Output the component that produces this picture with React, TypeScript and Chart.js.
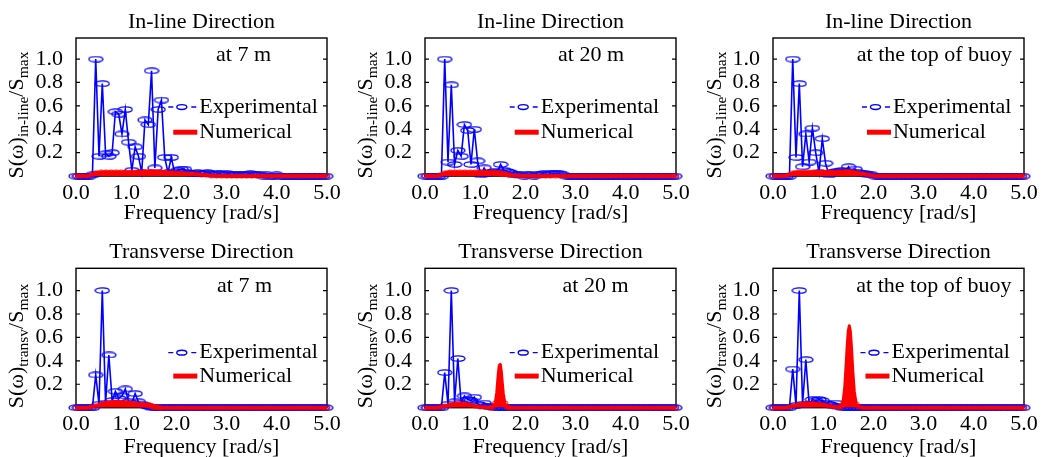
import React, { useEffect, useRef } from 'react';
import { Chart, registerables } from 'chart.js';

Chart.register(...registerables);

// ---------------- data ----------------
const expFreq = [
  0, 0.065, 0.131, 0.196, 0.262, 0.327, 0.393, 0.458, 0.524, 0.589, 0.654,
  0.72, 0.785, 0.851, 0.916, 0.982, 1.047, 1.113, 1.178, 1.244, 1.309, 1.374,
  1.44, 1.505, 1.571, 1.636, 1.702, 1.767, 1.833, 1.898, 1.963, 2.029, 2.094,
  2.16, 2.225, 2.291, 2.356, 2.421, 2.487, 2.552, 2.618, 2.683, 2.749, 2.814,
  2.88, 2.945, 3.011, 3.076, 3.142, 3.207, 3.272, 3.338, 3.403, 3.469, 3.534,
  3.6, 3.665, 3.731, 3.796, 3.862, 3.927, 3.992, 4.058, 4.123, 4.189, 4.254,
  4.32, 4.385, 4.451, 4.516, 4.581, 4.647, 4.712, 4.778, 4.843, 4.909, 4.974,
];

const expInline7 = [
  0, 0, 0, 0, 0, 0.01, 1.0, 0.17, 0.79, 0.19, 0.17,
  0.2, 0.55, 0.53, 0.36, 0.57, 0.29, 0.05, 0.25, 0.17, 0.03, 0.48,
  0.44, 0.9, 0.07, 0.57, 0.65, 0.16, 0.03, 0.16, 0.03, 0.05, 0.06,
  0.06, 0.03, 0.02, 0.02, 0.03, 0.02, 0.02, 0.03, 0.02, 0.01, 0.02,
  0.02, 0.01, 0.02, 0.01, 0.01, 0.01, 0.01, 0.01, 0.01, 0.02, 0.01,
  0.01, 0.01, 0, 0.01, 0, 0, 0.01, 0, 0, 0, 0,
  0, 0, 0, 0, 0, 0, 0, 0, 0, 0, 0,
];
const expInline20 = [
  0, 0, 0, 0, 0, 0, 1.0, 0.12, 0.78, 0.1, 0.22,
  0.17, 0.44, 0.39, 0.1, 0.4, 0.13, 0.01, 0.07, 0.02, 0.03, 0.04,
  0.03, 0.1, 0.05, 0.04, 0.03, 0.01, 0.01, 0.01, 0, 0.01, 0.01,
  0, 0.01, 0.01, 0.02, 0.01, 0.02, 0.02, 0.02, 0.02, 0.01, 0,
  0, 0, 0, 0, 0, 0, 0, 0, 0, 0, 0,
  0, 0, 0, 0, 0, 0, 0, 0, 0, 0, 0,
  0, 0, 0, 0, 0, 0, 0, 0, 0, 0, 0,
];
const expInlineTop = [
  0, 0, 0, 0, 0, 0, 1.0, 0.16, 0.79, 0.08, 0.36,
  0.12, 0.41, 0.2, 0.03, 0.32, 0.11, 0.01, 0.03, 0.04, 0.04, 0.05,
  0.04, 0.08, 0.03, 0.06, 0.03, 0.02, 0.02, 0.01, 0.01, 0, 0,
  0, 0, 0, 0, 0, 0, 0, 0, 0, 0, 0,
  0, 0, 0, 0, 0, 0, 0, 0, 0, 0, 0,
  0, 0, 0, 0, 0, 0, 0, 0, 0, 0, 0,
  0, 0, 0, 0, 0, 0, 0, 0, 0, 0, 0,
];
const expTransv7 = [
  0, 0, 0, 0, 0, 0, 0.28, 0.03, 1.0, 0.04, 0.45,
  0.06, 0.14, 0.08, 0.1, 0.16, 0.05, 0.04, 0.12, 0.05, 0.03, 0.02,
  0.01, 0, 0, 0, 0, 0, 0, 0, 0, 0, 0,
  0, 0, 0, 0, 0, 0, 0, 0, 0, 0, 0,
  0, 0, 0, 0, 0, 0, 0, 0, 0, 0, 0,
  0, 0, 0, 0, 0, 0, 0, 0, 0, 0, 0,
  0, 0, 0, 0, 0, 0, 0, 0, 0, 0, 0,
];
const expTransv20 = [
  0, 0, 0, 0, 0, 0, 0.3, 0.03, 1.0, 0.05, 0.42,
  0.04, 0.1, 0.07, 0.06, 0.09, 0.03, 0.02, 0.04, 0.01, 0.01, 0,
  0, 0, 0, 0, 0, 0, 0, 0, 0, 0, 0,
  0, 0, 0, 0, 0, 0, 0, 0, 0, 0, 0,
  0, 0, 0, 0, 0, 0, 0, 0, 0, 0, 0,
  0, 0, 0, 0, 0, 0, 0, 0, 0, 0, 0,
  0, 0, 0, 0, 0, 0, 0, 0, 0, 0, 0,
];
const expTransvTop = [
  0, 0, 0, 0, 0, 0, 0.33, 0.02, 1.0, 0.03, 0.41,
  0.03, 0.07, 0.06, 0.07, 0.06, 0.04, 0.03, 0.02, 0.04, 0.01, 0,
  0, 0, 0, 0, 0, 0, 0, 0, 0, 0, 0,
  0, 0, 0, 0, 0, 0, 0, 0, 0, 0, 0,
  0, 0, 0, 0, 0, 0, 0, 0, 0, 0, 0,
  0, 0, 0, 0, 0, 0, 0, 0, 0, 0, 0,
  0, 0, 0, 0, 0, 0, 0, 0, 0, 0, 0,
];

const numFreq = [
  0.0, 0.1, 0.2, 0.3, 0.4, 0.5, 0.6, 0.7, 0.8, 0.9,
  1.0, 1.1, 1.2, 1.3, 1.35, 1.4, 1.43, 1.46, 1.48, 1.5,
  1.52, 1.54, 1.56, 1.59, 1.62, 1.66, 1.7, 1.8, 1.9, 2.0,
  2.1, 2.2, 2.3, 2.4, 2.5, 2.6, 2.7, 2.8, 2.9, 3.0,
  3.1, 3.2, 3.3, 3.4, 3.5, 3.6, 3.7, 3.8, 3.9, 4.0,
  4.1, 4.2, 4.3, 4.4, 4.5, 4.6, 4.7, 4.8, 4.9, 5.0,
];
const numInline7 = [
  0, 0, 0, 0.008, 0.03, 0.034, 0.035, 0.036, 0.036, 0.036,
  0.036, 0.036, 0.036, 0.036, 0.036, 0.036, 0.036, 0.036, 0.036, 0.036,
  0.036, 0.036, 0.035, 0.035, 0.035, 0.034, 0.034, 0.032, 0.03, 0.028,
  0.025, 0.022, 0.019, 0.016, 0.012, 0.008, 0.005, 0.003, 0.001, 0,
  0, 0, 0, 0, 0, 0, 0, 0, 0, 0,
  0, 0, 0, 0, 0, 0, 0, 0, 0, 0,
];
const numInline20 = [
  0, 0, 0, 0.008, 0.03, 0.035, 0.036, 0.036, 0.036, 0.036,
  0.036, 0.035, 0.034, 0.032, 0.031, 0.03, 0.028, 0.026, 0.025, 0.024,
  0.022, 0.02, 0.019, 0.016, 0.014, 0.011, 0.009, 0.005, 0.002, 0,
  0, 0, 0, 0, 0, 0, 0, 0, 0, 0,
  0, 0, 0, 0, 0, 0, 0, 0, 0, 0,
  0, 0, 0, 0, 0, 0, 0, 0, 0, 0,
];
const numInlineTop = [
  0, 0, 0, 0.008, 0.03, 0.035, 0.036, 0.036, 0.036, 0.036,
  0.036, 0.036, 0.035, 0.035, 0.034, 0.034, 0.034, 0.033, 0.033, 0.033,
  0.032, 0.032, 0.031, 0.03, 0.029, 0.027, 0.025, 0.018, 0.01, 0.004,
  0.001, 0, 0, 0, 0, 0, 0, 0, 0, 0,
  0, 0, 0, 0, 0, 0, 0, 0, 0, 0,
  0, 0, 0, 0, 0, 0, 0, 0, 0, 0,
];
const numTransv7 = [
  0, 0, 0, 0.006, 0.018, 0.03, 0.042, 0.05, 0.052, 0.05,
  0.045, 0.04, 0.034, 0.028, 0.025, 0.023, 0.021, 0.019, 0.017, 0.015,
  0.012, 0.01, 0.007, 0.004, 0.002, 0.001, 0, 0, 0, 0,
  0, 0, 0, 0, 0, 0, 0, 0, 0, 0,
  0, 0, 0, 0, 0, 0, 0, 0, 0, 0,
  0, 0, 0, 0, 0, 0, 0, 0, 0, 0,
];
const numTransv20 = [
  0, 0, 0, 0.004, 0.014, 0.026, 0.034, 0.036, 0.032, 0.024,
  0.014, 0.007, 0.003, 0.001, 0.004, 0.04, 0.13, 0.29, 0.36, 0.37,
  0.31, 0.21, 0.12, 0.04, 0.01, 0.002, 0, 0, 0, 0,
  0, 0, 0, 0, 0, 0, 0, 0, 0, 0,
  0, 0, 0, 0, 0, 0, 0, 0, 0, 0,
  0, 0, 0, 0, 0, 0, 0, 0, 0, 0,
];
const numTransvTop = [
  0, 0, 0, 0.004, 0.014, 0.026, 0.034, 0.036, 0.036, 0.032,
  0.026, 0.018, 0.009, 0.003, 0.006, 0.065, 0.18, 0.39, 0.54, 0.655,
  0.7, 0.655, 0.54, 0.31, 0.135, 0.03, 0.01, 0, 0, 0,
  0, 0, 0, 0, 0, 0, 0, 0, 0, 0,
  0, 0, 0, 0, 0, 0, 0, 0, 0, 0,
  0, 0, 0, 0, 0, 0, 0, 0, 0, 0,
];

const xTicks = [0, 1, 2, 3, 4, 5];
const yTicks = [0.2, 0.4, 0.6, 0.8, 1.0];
const seriesNames = ['Experimental', 'Numerical'];
const xTitle = 'Frequency [rad/s]';

// ---------------- layout / style ----------------
const FONT = '"Liberation Serif", "Times New Roman", serif';
const BLUE = '#0000ff';
const RED = '#ff0000';
const CANVAS_W = 349;
const CANVAS_H = 229;

const COLS = [
  { left: 0, yAxisW: 76, padRight: 22 },
  { left: 349, yAxisW: 76, padRight: 22 },
  { left: 698, yAxisW: 75, padRight: 23 },
];
const ROWS = [
  { top: 0, titlePadTop: 9.5, titlePadBottom: 2.1, xAxisH: 52.9, xTitlePadBottom: 2.8, yMax: 1.18, noteY: 1.035, legY: [0.59, 0.375] },
  { top: 228, titlePadTop: 11.5, titlePadBottom: 2.4, xAxisH: 49.3, xTitlePadBottom: -3.9, yMax: 1.19, noteY: 1.04, legY: [0.47, 0.27] },
];

type PanelSpec = {
  id: string; col: number; row: number; title: string; sub: string; note: string;
  exp: number[]; num: number[]; noteX: number; legX: number;
};

const panels: PanelSpec[] = [
  { id: 'a', col: 0, row: 0, title: 'In-line Direction', sub: 'in-line', note: 'at 7 m', exp: expInline7, num: numInline7, noteX: 2.79, legX: 2.456 },
  { id: 'b', col: 1, row: 0, title: 'In-line Direction', sub: 'in-line', note: 'at 20 m', exp: expInline20, num: numInline20, noteX: 2.65, legX: 2.305 },
  { id: 'c', col: 2, row: 0, title: 'In-line Direction', sub: 'in-line', note: 'at the top of buoy', exp: expInlineTop, num: numInlineTop, noteX: 1.67, legX: 2.39 },
  { id: 'd', col: 0, row: 1, title: 'Transverse Direction', sub: 'transv', note: 'at 7 m', exp: expTransv7, num: numTransv7, noteX: 2.81, legX: 2.456 },
  { id: 'e', col: 1, row: 1, title: 'Transverse Direction', sub: 'transv', note: 'at 20 m', exp: expTransv20, num: numTransv20, noteX: 2.74, legX: 2.305 },
  { id: 'f', col: 2, row: 1, title: 'Transverse Direction', sub: 'transv', note: 'at the top of buoy', exp: expTransvTop, num: numTransvTop, noteX: 1.66, legX: 2.36 },
];

const markerCache: Record<string, HTMLCanvasElement> = {};
function ellipseMarker(key: string, w: number, h: number, rx: number, ry: number, color: string, lw: number) {
  if (markerCache[key]) return markerCache[key];
  const c = document.createElement('canvas');
  c.width = w;
  c.height = h;
  const ctx = c.getContext('2d')!;
  ctx.strokeStyle = color;
  ctx.lineWidth = lw;
  ctx.beginPath();
  ctx.ellipse(w / 2, h / 2, rx, ry, 0, 0, Math.PI * 2);
  ctx.stroke();
  markerCache[key] = c;
  return c;
}

const decor = {
  id: 'decor',
  beforeDatasetsDraw(chart: any) {
    const { ctx, chartArea: a, scales } = chart;
    const y = scales.y;
    ctx.save();
    ctx.strokeStyle = '#000';
    ctx.lineWidth = 1.4;
    ctx.strokeRect(a.left, a.top, a.right - a.left, a.bottom - a.top);
    ctx.lineWidth = 1.2;
    ctx.beginPath();
    for (const v of yTicks) {
      const py = y.getPixelForValue(v);
      ctx.moveTo(a.left, py);
      ctx.lineTo(a.left + 4, py);
      ctx.moveTo(a.right, py);
      ctx.lineTo(a.right - 4, py);
    }
    ctx.stroke();
    ctx.restore();
  },
  afterDraw(chart: any, _args: any, o: any) {
    const { ctx, chartArea: a, scales } = chart;
    const x = scales.x;
    const y = scales.y;
    ctx.save();
    ctx.fillStyle = '#000';
    ctx.textBaseline = 'middle';
    ctx.textAlign = 'left';
    ctx.font = `22px ${FONT}`;
    ctx.fillText(o.note, x.getPixelForValue(o.noteX), y.getPixelForValue(o.noteY));

    // legend
    const t = x.getPixelForValue(o.legX);
    const ye = y.getPixelForValue(o.legY[0]);
    const yn = y.getPixelForValue(o.legY[1]);
    ctx.fillText(chart.data.datasets[1].label, t, ye);
    ctx.fillText(chart.data.datasets[0].label, t, yn);
    ctx.strokeStyle = BLUE;
    ctx.lineWidth = 1.4;
    ctx.beginPath();
    ctx.moveTo(t - 31, ye);
    ctx.lineTo(t - 26, ye);
    ctx.moveTo(t - 8, ye);
    ctx.lineTo(t - 3, ye);
    ctx.stroke();
    ctx.beginPath();
    ctx.ellipse(t - 17.5, ye, 5, 2.4, 0, 0, Math.PI * 2);
    ctx.stroke();
    ctx.strokeStyle = RED;
    ctx.lineWidth = 5;
    ctx.beginPath();
    ctx.moveTo(t - 26, yn);
    ctx.lineTo(t - 2, yn);
    ctx.stroke();

    // y axis title with subscripts
    const parts = [
      { t: 'S(ω)', f: 22, dy: 0 },
      { t: o.sub, f: 15.5, dy: 5 },
      { t: '/S', f: 22, dy: 0 },
      { t: 'max', f: 15.5, dy: 5 },
    ];
    ctx.translate(23, (a.top + a.bottom) / 2 + 8);
    ctx.rotate(-Math.PI / 2);
    ctx.textBaseline = 'alphabetic';
    let total = 0;
    const widths: number[] = [];
    for (const p of parts) {
      ctx.font = `${p.f}px ${FONT}`;
      const w = ctx.measureText(p.t).width;
      widths.push(w);
      total += w;
    }
    let cx = -total / 2;
    parts.forEach((p, i) => {
      ctx.font = `${p.f}px ${FONT}`;
      ctx.fillText(p.t, cx, p.dy);
      cx += widths[i];
    });
    ctx.restore();
  },
};

function Panel({ p }: { p: PanelSpec }) {
  const ref = useRef<HTMLCanvasElement>(null);
  const col = COLS[p.col];
  const row = ROWS[p.row];
  useEffect(() => {
    const font = { family: FONT, size: 22, weight: 'normal' as const };
    const chart = new Chart(ref.current!, {
      type: 'line',
      data: {
        datasets: [
          {
            label: seriesNames[1],
            data: numFreq.map((f, i) => ({ x: f, y: p.num[i] })),
            borderColor: RED,
            backgroundColor: RED,
            borderWidth: 3,
            borderJoinStyle: 'round',
            pointStyle: ellipseMarker('red', 8, 6, 3, 2, RED, 1) as any,
            pointRadius: (c: any) => (c.raw && c.raw.y < 0.05 ? 2 : 0),
            pointHoverRadius: 0,
            fill: 'origin',
            tension: 0,
            clip: false as any,
            order: 0,
          },
          {
            label: seriesNames[0],
            data: expFreq.map((f, i) => ({ x: f, y: p.exp[i] })),
            borderColor: BLUE,
            backgroundColor: BLUE,
            borderWidth: 1.6,
            pointStyle: ellipseMarker('blue', 16, 7, 7, 2.7, BLUE, 1.3) as any,
            pointRadius: 4,
            pointHoverRadius: 4,
            fill: false,
            tension: 0,
            clip: false as any,
            order: 1,
          },
        ],
      },
      options: {
        responsive: false,
        animation: false,
        devicePixelRatio: 1,
        events: [],
        layout: { padding: { left: 0, right: col.padRight, top: 0, bottom: 0 } },
        plugins: {
          legend: { display: false },
          tooltip: { enabled: false },
          filler: { propagate: false },
          title: {
            display: true,
            text: p.title,
            fullSize: false,
            color: '#000',
            font,
            padding: { top: row.titlePadTop, bottom: row.titlePadBottom },
          },
          decor: { note: p.note, noteX: p.noteX, noteY: row.noteY, legX: p.legX, legY: row.legY, sub: p.sub },
        } as any,
        scales: {
          x: {
            type: 'linear',
            min: 0,
            max: 5,
            afterBuildTicks: (s: any) => {
              s.ticks = xTicks.map((v) => ({ value: v }));
            },
            afterFit: (s: any) => {
              s.height = row.xAxisH;
            },
            ticks: {
              callback: (v: any) => Number(v).toFixed(1),
              font,
              color: '#000',
              padding: 3.5,
              maxRotation: 0,
              minRotation: 0,
              autoSkip: false,
            },
            grid: { display: false, drawTicks: false },
            border: { display: false },
            title: {
              display: true,
              text: xTitle,
              color: '#000',
              font,
              padding: { top: 0, bottom: row.xTitlePadBottom },
            },
          },
          y: {
            type: 'linear',
            min: 0,
            max: row.yMax,
            afterBuildTicks: (s: any) => {
              s.ticks = yTicks.map((v) => ({ value: v }));
            },
            afterFit: (s: any) => {
              s.width = col.yAxisW;
            },
            ticks: {
              callback: (v: any) => Number(v).toFixed(1),
              font,
              color: '#000',
              padding: 13,
              autoSkip: false,
            },
            grid: { display: false, drawTicks: false },
            border: { display: false },
          },
        },
      },
      plugins: [decor as any],
    });
    return () => chart.destroy();
  }, []);
  return (
    <canvas
      ref={ref}
      width={CANVAS_W}
      height={CANVAS_H}
      style={{ position: 'absolute', left: col.left, top: row.top, width: CANVAS_W, height: CANVAS_H }}
    />
  );
}

export default function App() {
  return (
    <div
      style={{
        position: 'absolute',
        left: 0,
        top: 0,
        width: 1047,
        height: 457,
        overflow: 'hidden',
        background: '#fff',
      }}
    >
      {panels.map((p) => (
        <Panel key={p.id} p={p} />
      ))}
    </div>
  );
}
